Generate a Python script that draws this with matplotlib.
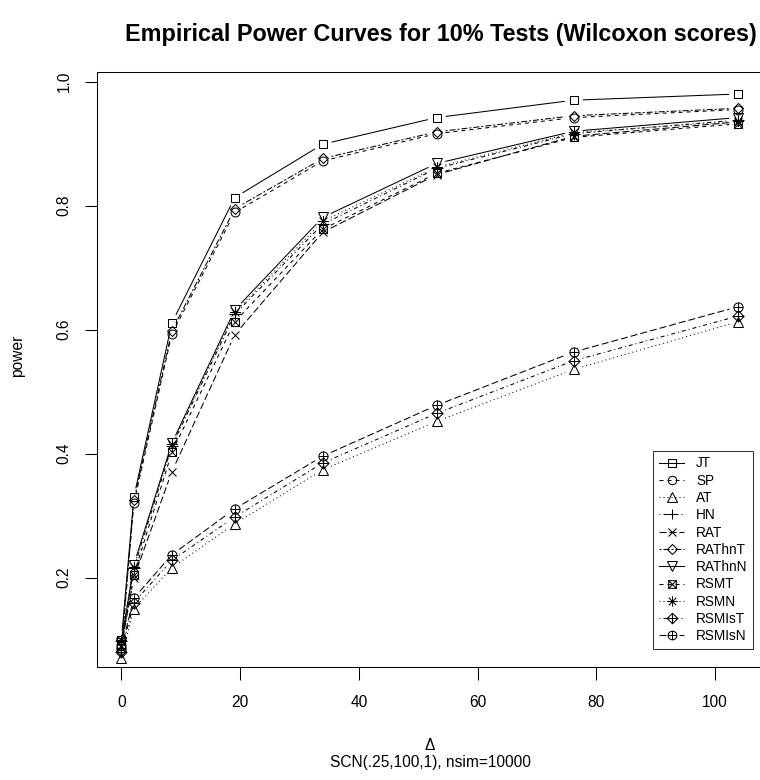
import numpy as np
import matplotlib
matplotlib.use("Agg")
import matplotlib.pyplot as plt
from matplotlib.lines import Line2D
from matplotlib.path import Path

plt.rcParams['font.family'] = ['Liberation Sans', 'DejaVu Sans']
plt.rcParams['lines.scale_dashes'] = False

# ---------------- data ----------------
delta = [0, 2.1, 8.5, 19.1, 33.9, 53.1, 76.2, 103.9]

JT      = [0.100, 0.330, 0.611, 0.813, 0.899, 0.942, 0.970, 0.980]
SP      = [0.092, 0.320, 0.593, 0.789, 0.872, 0.916, 0.942, 0.955]
AT      = [0.070, 0.150, 0.216, 0.287, 0.374, 0.452, 0.536, 0.613]
HN      = [0.098, 0.215, 0.412, 0.625, 0.770, 0.860, 0.916, 0.938]
RAT     = [0.090, 0.200, 0.371, 0.592, 0.757, 0.850, 0.912, 0.935]
RAThnT  = [0.082, 0.325, 0.598, 0.795, 0.876, 0.919, 0.945, 0.957]
RAThnN  = [0.095, 0.221, 0.417, 0.632, 0.781, 0.868, 0.920, 0.942]
RSMT    = [0.090, 0.205, 0.402, 0.613, 0.762, 0.852, 0.910, 0.932]
RSMN    = [0.100, 0.218, 0.415, 0.628, 0.775, 0.862, 0.918, 0.936]
RSMIsT  = [0.080, 0.160, 0.228, 0.298, 0.385, 0.465, 0.550, 0.622]
RSMIsN  = [0.086, 0.167, 0.237, 0.311, 0.396, 0.478, 0.564, 0.637]

series_names = ["JT", "SP", "AT", "HN", "RAT", "RAThnT", "RAThnN",
                "RSMT", "RSMN", "RSMIsT", "RSMIsN"]
series_vals = [JT, SP, AT, HN, RAT, RAThnT, RAThnN, RSMT, RSMN, RSMIsT, RSMIsN]

title = "Empirical Power Curves for 10% Tests (Wilcoxon scores)"
xlab = "\u0394"
sub = "SCN(.25,100,1), nsim=10000"
ylab = "power"
xticks = [0, 20, 40, 60, 80, 100]
yticks = [0.2, 0.4, 0.6, 0.8, 1.0]

# ---------------- styles (R pch / lty emulation) ----------------
px = 0.72  # one pixel in points at 100 dpi
lty = {
    1: '-',
    2: (0, (4 * px, 4 * px)),
    3: (0, (1 * px, 3 * px)),
    4: (0, (1 * px, 3 * px, 4 * px, 3 * px)),
    5: (0, (7 * px, 3 * px)),
    6: (0, (2 * px, 2 * px, 6 * px, 2 * px)),
}

M, L_, C = Path.MOVETO, Path.LINETO, Path.CLOSEPOLY


def seg_path(segs):
    verts, codes = [], []
    for a, b in segs:
        verts += [a, b]
        codes += [M, L_]
    return Path(verts, codes)


SQ = Path([(-.5, -.5), (.5, -.5), (.5, .5), (-.5, .5), (-.5, -.5)], [M, L_, L_, L_, C])
DI = Path([(0, -.5), (.5, 0), (0, .5), (-.5, 0), (0, -.5)], [M, L_, L_, L_, C])
CI = Path(Path.unit_circle().vertices * 0.5, Path.unit_circle().codes)
PL = seg_path([((-.5, 0), (.5, 0)), ((0, -.5), (0, .5))])
XX = seg_path([((-.5, -.5), (.5, .5)), ((-.5, .5), (.5, -.5))])
a = 0.5 / np.sqrt(2)
XS = seg_path([((-a, -a), (a, a)), ((-a, a), (a, -a))])

# pch 0..10 : (marker, size in points)
pch = {
    0: ('s', 5.8),
    1: ('o', 6.4),
    2: ('^', 7.2),
    3: ('+', 8.0),
    4: ('x', 5.8),
    5: ('D', 5.6),
    6: ('v', 7.2),
    7: (Path.make_compound_path(SQ, XX), 5.8),
    8: (Path.make_compound_path(PL, XS), 8.0),
    9: (Path.make_compound_path(DI, PL), 8.0),
    10: (Path.make_compound_path(CI, PL), 6.6),
}
LW = 0.75

W, H = 760, 780
fig = plt.figure(figsize=(W / 100, H / 100), dpi=100)
ax_left, ax_right, ax_top, ax_bot = 96.7, 762.9, 72.3, 667.0
ax = fig.add_axes([ax_left / W, 1 - ax_bot / H, (ax_right - ax_left) / W, (ax_bot - ax_top) / H])
ax.set_xlim(-4.16, 108.06)
ax.set_ylim(0.056, 1.015)

for s in ['left', 'bottom', 'top', 'right']:
    ax.spines[s].set_linewidth(LW)

ax.set_xticks(xticks)
ax.set_xticklabels([str(t) for t in xticks])
ax.set_yticks(yticks)
ax.set_yticklabels([f"{t:.1f}" for t in yticks], rotation=90, va='center')
ax.tick_params(axis='both', direction='out', length=9, width=LW, labelsize=11.2, color='black')
ax.tick_params(axis='x', pad=11.5)
ax.tick_params(axis='y', pad=9)

fig.canvas.draw()
inv = ax.transData.inverted()
GAP = 9.0  # pixels between line end and point centre


def gapped_line(xv, yv, dash):
    pts = ax.transData.transform(np.column_stack([xv, yv]))
    for p0, p1 in zip(pts[:-1], pts[1:]):
        d = p1 - p0
        L = np.hypot(*d)
        if L <= 2 * GAP:
            continue
        u = d / L
        q = inv.transform(np.vstack([p0 + u * GAP, p1 - u * GAP]))
        ax.plot(q[:, 0], q[:, 1], color='black', lw=LW, linestyle=dash,
                solid_capstyle='butt')


handles = []
for i, (name, vals) in enumerate(zip(series_names, series_vals)):
    lt = lty[(i % 6) + 1]
    m, ms = pch[i]
    gapped_line(delta, vals, lt)
    ax.plot(delta, vals, linestyle='none', marker=m, ms=ms, mfc='none',
            mec='black', mew=LW)
    handles.append(Line2D([], [], color='black', lw=LW, linestyle=lt, marker=m,
                          ms=ms * 0.95, mfc='none', mec='black', mew=LW))

leg = ax.legend(handles, series_names, loc='upper right',
                bbox_to_anchor=(753 / W, 1 - 451 / H), bbox_transform=fig.transFigure,
                numpoints=1, fontsize=9.8, frameon=True, fancybox=False, borderaxespad=0,
                handlelength=1.9, handletextpad=0.85, labelspacing=0.24,
                borderpad=0.4)
leg.get_frame().set_edgecolor('black')
leg.get_frame().set_linewidth(LW)

fig.text(441 / W, 1 - 35 / H, title, ha='center', va='center', fontsize=16.8, fontweight='bold')
fig.text(430 / W, 1 - 745 / H, xlab, ha='center', va='center', fontsize=11.2)
fig.text(430 / W, 1 - 762 / H, sub, ha='center', va='center', fontsize=11.2)
fig.text(18 / W, 1 - 356 / H, ylab, ha='center', va='center', rotation=90, fontsize=11.2)

fig.savefig("out.png", dpi=100)
